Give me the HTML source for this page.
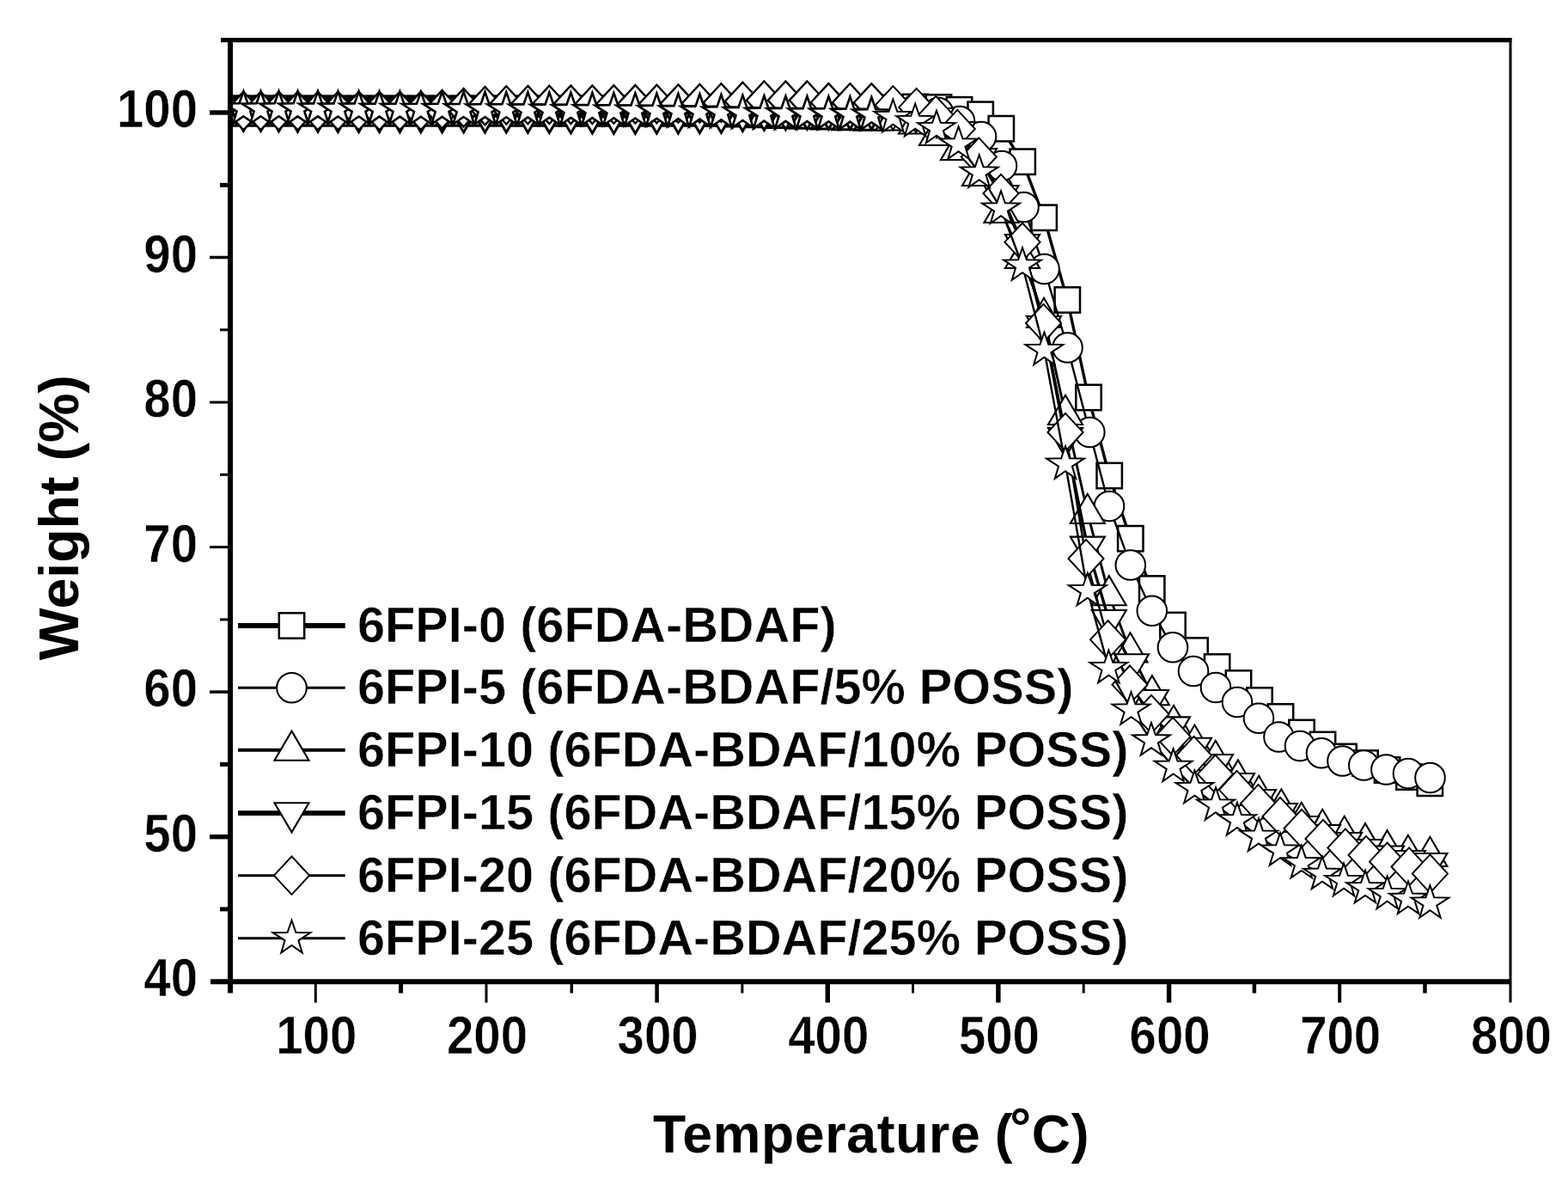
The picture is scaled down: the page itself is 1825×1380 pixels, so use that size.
<!DOCTYPE html>
<html lang="en"><head><meta charset="utf-8"><title>TGA curves</title>
<style>html,body{margin:0;padding:0;background:#fff;overflow:hidden}svg{display:block}text{font-family:"Liberation Sans",Arial,Helvetica,sans-serif;font-weight:bold;fill:#000}.m{fill:#fff;stroke:#000;stroke-linejoin:miter;stroke-miterlimit:4}.l{fill:none;stroke:#000;stroke-linejoin:round}.a{stroke:#000;fill:none;stroke-linecap:butt}</style></head><body>
<svg width="1825" height="1380" viewBox="0 0 1825 1380" role="img" aria-label="TGA weight versus temperature curves">
<rect width="1825" height="1380" fill="#fff"/>
<defs><clipPath id="c"><rect x="268" y="46" width="1490" height="1097"/></clipPath></defs>
<g clip-path="url(#c)">
<g id="s-sq">
<polyline class="l" stroke-width="3.4" points="263,127 283.4,127 303.5,127 324.5,127 346.5,127 370,127 393.4,127 417.6,127 441.6,127 465.4,127 489.9,127 514.6,127 539.6,127 564.5,127 589.3,127 614.4,127 639.4,127 664.4,127 689.4,127 714.4,127 739.4,127.1 764.4,127.2 789.4,127.4 814.4,127.6 839.4,127.8 864.4,127.9 889.4,128 914.4,128 939.4,127.9 964.4,127.8 989.4,127.6 1014.4,127 1039.4,125.5 1065.5,124.5 1092.5,125 1116.5,127.8 1141.2,133.3 1165.3,149.7 1190.2,188.2 1215.2,253.3 1242.3,349 1267,462.5 1291.2,553.5 1315.8,626.7 1340.7,685 1365,727.5 1391,757 1416.6,776 1441.5,795 1466,815 1490.5,834 1515,852.5 1539.5,866.5 1564,880.5 1589,888 1614.6,896 1640,904 1664.3,911.3"/>
<g class="m" stroke-width="3.4"><rect x="248.3" y="112.3" width="29.4" height="29.4"/><rect x="268.7" y="112.3" width="29.4" height="29.4"/><rect x="288.8" y="112.3" width="29.4" height="29.4"/><rect x="309.8" y="112.3" width="29.4" height="29.4"/><rect x="331.8" y="112.3" width="29.4" height="29.4"/><rect x="355.3" y="112.3" width="29.4" height="29.4"/><rect x="378.7" y="112.3" width="29.4" height="29.4"/><rect x="402.9" y="112.3" width="29.4" height="29.4"/><rect x="426.9" y="112.3" width="29.4" height="29.4"/><rect x="450.7" y="112.3" width="29.4" height="29.4"/><rect x="475.2" y="112.3" width="29.4" height="29.4"/><rect x="499.9" y="112.3" width="29.4" height="29.4"/><rect x="524.9" y="112.3" width="29.4" height="29.4"/><rect x="549.8" y="112.3" width="29.4" height="29.4"/><rect x="574.6" y="112.3" width="29.4" height="29.4"/><rect x="599.7" y="112.3" width="29.4" height="29.4"/><rect x="624.7" y="112.3" width="29.4" height="29.4"/><rect x="649.7" y="112.3" width="29.4" height="29.4"/><rect x="674.7" y="112.3" width="29.4" height="29.4"/><rect x="699.7" y="112.3" width="29.4" height="29.4"/><rect x="724.7" y="112.4" width="29.4" height="29.4"/><rect x="749.7" y="112.5" width="29.4" height="29.4"/><rect x="774.7" y="112.7" width="29.4" height="29.4"/><rect x="799.7" y="112.9" width="29.4" height="29.4"/><rect x="824.7" y="113.1" width="29.4" height="29.4"/><rect x="849.7" y="113.2" width="29.4" height="29.4"/><rect x="874.7" y="113.3" width="29.4" height="29.4"/><rect x="899.7" y="113.3" width="29.4" height="29.4"/><rect x="924.7" y="113.2" width="29.4" height="29.4"/><rect x="949.7" y="113.1" width="29.4" height="29.4"/><rect x="974.7" y="112.9" width="29.4" height="29.4"/><rect x="999.7" y="112.3" width="29.4" height="29.4"/></g>
<g class="m" stroke-width="2.5"><rect x="1024.7" y="110.8" width="29.4" height="29.4"/><rect x="1050.8" y="109.8" width="29.4" height="29.4"/><rect x="1077.8" y="110.3" width="29.4" height="29.4"/><rect x="1101.8" y="113.1" width="29.4" height="29.4"/><rect x="1126.5" y="118.6" width="29.4" height="29.4"/><rect x="1150.6" y="135" width="29.4" height="29.4"/><rect x="1175.5" y="173.5" width="29.4" height="29.4"/><rect x="1200.5" y="238.6" width="29.4" height="29.4"/><rect x="1227.6" y="334.3" width="29.4" height="29.4"/><rect x="1252.3" y="447.8" width="29.4" height="29.4"/><rect x="1276.5" y="538.8" width="29.4" height="29.4"/><rect x="1301.1" y="612" width="29.4" height="29.4"/><rect x="1326" y="670.3" width="29.4" height="29.4"/><rect x="1350.3" y="712.8" width="29.4" height="29.4"/><rect x="1376.3" y="742.3" width="29.4" height="29.4"/><rect x="1401.9" y="761.3" width="29.4" height="29.4"/><rect x="1426.8" y="780.3" width="29.4" height="29.4"/><rect x="1451.3" y="800.3" width="29.4" height="29.4"/><rect x="1475.8" y="819.3" width="29.4" height="29.4"/><rect x="1500.3" y="837.8" width="29.4" height="29.4"/><rect x="1524.8" y="851.8" width="29.4" height="29.4"/><rect x="1549.3" y="865.8" width="29.4" height="29.4"/><rect x="1574.3" y="873.3" width="29.4" height="29.4"/><rect x="1599.9" y="881.3" width="29.4" height="29.4"/><rect x="1625.3" y="889.3" width="29.4" height="29.4"/><rect x="1649.6" y="896.6" width="29.4" height="29.4"/></g>
</g>
<g id="s-ci">
<polyline class="l" stroke-width="2.4" points="263,128.5 283.4,128.5 303.5,128.5 324.5,128.5 346.5,128.5 370,128.5 393.4,128.5 417.6,128.5 441.6,128.5 465.4,128.5 489.9,128.5 514.6,128.5 539.6,128.5 564.5,128.5 589.3,128.5 614.4,128.5 639.4,128.5 664.4,128.5 689.4,128.5 714.4,128.5 739.4,128.6 764.4,128.7 789.4,128.9 814.4,129.1 839.4,129.3 864.4,129.4 889.4,129.5 914.4,129.5 939.4,129.5 964.4,129.5 989.4,129.5 1014.4,129.2 1039.4,128 1066,127 1092,131 1117,141 1142,159 1166,193 1191.5,241 1215.5,313 1242.5,404.5 1268.3,503 1291,589 1315.8,657.5 1340.8,710.8 1365,753.3 1389,781 1415,800 1440,817 1465,835.7 1488.5,857.5 1513,868 1538,876.3 1562.5,885.5 1587.3,890.5 1613.4,895.5 1639,900 1664.5,905"/>
<g class="m" stroke-width="3.4"><circle cx="263" cy="128.5" r="17.3"/><circle cx="283.4" cy="128.5" r="17.3"/><circle cx="303.5" cy="128.5" r="17.3"/><circle cx="324.5" cy="128.5" r="17.3"/><circle cx="346.5" cy="128.5" r="17.3"/><circle cx="370" cy="128.5" r="17.3"/><circle cx="393.4" cy="128.5" r="17.3"/><circle cx="417.6" cy="128.5" r="17.3"/><circle cx="441.6" cy="128.5" r="17.3"/><circle cx="465.4" cy="128.5" r="17.3"/><circle cx="489.9" cy="128.5" r="17.3"/><circle cx="514.6" cy="128.5" r="17.3"/><circle cx="539.6" cy="128.5" r="17.3"/><circle cx="564.5" cy="128.5" r="17.3"/><circle cx="589.3" cy="128.5" r="17.3"/><circle cx="614.4" cy="128.5" r="17.3"/><circle cx="639.4" cy="128.5" r="17.3"/><circle cx="664.4" cy="128.5" r="17.3"/><circle cx="689.4" cy="128.5" r="17.3"/><circle cx="714.4" cy="128.5" r="17.3"/><circle cx="739.4" cy="128.6" r="17.3"/><circle cx="764.4" cy="128.7" r="17.3"/><circle cx="789.4" cy="128.9" r="17.3"/><circle cx="814.4" cy="129.1" r="17.3"/><circle cx="839.4" cy="129.3" r="17.3"/><circle cx="864.4" cy="129.4" r="17.3"/><circle cx="889.4" cy="129.5" r="17.3"/><circle cx="914.4" cy="129.5" r="17.3"/><circle cx="939.4" cy="129.5" r="17.3"/><circle cx="964.4" cy="129.5" r="17.3"/><circle cx="989.4" cy="129.5" r="17.3"/><circle cx="1014.4" cy="129.2" r="17.3"/></g>
<g class="m" stroke-width="2.0"><circle cx="1039.4" cy="128" r="17.3"/><circle cx="1066" cy="127" r="17.3"/><circle cx="1092" cy="131" r="17.3"/><circle cx="1117" cy="141" r="17.3"/><circle cx="1142" cy="159" r="17.3"/><circle cx="1166" cy="193" r="17.3"/><circle cx="1191.5" cy="241" r="17.3"/><circle cx="1215.5" cy="313" r="17.3"/><circle cx="1242.5" cy="404.5" r="17.3"/><circle cx="1268.3" cy="503" r="17.3"/><circle cx="1291" cy="589" r="17.3"/><circle cx="1315.8" cy="657.5" r="17.3"/><circle cx="1340.8" cy="710.8" r="17.3"/><circle cx="1365" cy="753.3" r="17.3"/><circle cx="1389" cy="781" r="17.3"/><circle cx="1415" cy="800" r="17.3"/><circle cx="1440" cy="817" r="17.3"/><circle cx="1465" cy="835.7" r="17.3"/><circle cx="1488.5" cy="857.5" r="17.3"/><circle cx="1513" cy="868" r="17.3"/><circle cx="1538" cy="876.3" r="17.3"/><circle cx="1562.5" cy="885.5" r="17.3"/><circle cx="1587.3" cy="890.5" r="17.3"/><circle cx="1613.4" cy="895.5" r="17.3"/><circle cx="1639" cy="900" r="17.3"/><circle cx="1664.5" cy="905" r="17.3"/></g>
</g>
<g id="s-up">
<polyline class="l" stroke-width="2.9" points="263,134 283.4,134 303.5,134 324.5,134 346.5,134 370,134 393.4,134 417.6,134 441.6,134 465.4,134 489.9,134 514.6,134 539.6,134 564.5,134 589.3,134 614.4,134 639.4,134 664.4,134 689.4,134 714.4,134 739.4,134 764.4,134 789.4,134 814.4,134.1 839.4,134.5 864.4,135.1 889.4,135.7 914.4,136.4 939.4,137.2 964.4,138.1 989.4,138.8 1014.4,139.2 1039.4,139.5 1066,143.5 1090,157 1115,174 1140,204 1165.5,247 1190,300 1215,369 1240,482 1265.8,597 1290.8,692.3 1315.5,758.5 1340.9,808.3 1366,843 1390.4,865.7 1414.8,884 1440.9,906.6 1465.2,925 1491.3,940.5 1514.8,956 1539.2,964 1564.7,972 1589,980.3 1614.6,988.4 1638.9,994 1664.4,996"/>
<g class="m" stroke-width="3.0"><polygon points="263,111.8 283,146 243,146"/><polygon points="283.4,111.8 303.4,146 263.4,146"/><polygon points="303.5,111.8 323.5,146 283.5,146"/><polygon points="324.5,111.8 344.5,146 304.5,146"/><polygon points="346.5,111.8 366.5,146 326.5,146"/><polygon points="370,111.8 390,146 350,146"/><polygon points="393.4,111.8 413.4,146 373.4,146"/><polygon points="417.6,111.8 437.6,146 397.6,146"/><polygon points="441.6,111.8 461.6,146 421.6,146"/><polygon points="465.4,111.8 485.4,146 445.4,146"/><polygon points="489.9,111.8 509.9,146 469.9,146"/><polygon points="514.6,111.8 534.6,146 494.6,146"/><polygon points="539.6,111.8 559.6,146 519.6,146"/><polygon points="564.5,111.8 584.5,146 544.5,146"/><polygon points="589.3,111.8 609.3,146 569.3,146"/><polygon points="614.4,111.8 634.4,146 594.4,146"/><polygon points="639.4,111.8 659.4,146 619.4,146"/><polygon points="664.4,111.8 684.4,146 644.4,146"/><polygon points="689.4,111.8 709.4,146 669.4,146"/><polygon points="714.4,111.8 734.4,146 694.4,146"/><polygon points="739.4,111.8 759.4,146 719.4,146"/><polygon points="764.4,111.8 784.4,146 744.4,146"/><polygon points="789.4,111.8 809.4,146 769.4,146"/><polygon points="814.4,111.9 834.4,146.1 794.4,146.1"/><polygon points="839.4,112.3 859.4,146.5 819.4,146.5"/><polygon points="864.4,112.9 884.4,147.1 844.4,147.1"/><polygon points="889.4,113.5 909.4,147.7 869.4,147.7"/><polygon points="914.4,114.2 934.4,148.4 894.4,148.4"/><polygon points="939.4,115 959.4,149.2 919.4,149.2"/><polygon points="964.4,115.9 984.4,150.1 944.4,150.1"/><polygon points="989.4,116.6 1009.4,150.8 969.4,150.8"/><polygon points="1014.4,117 1034.4,151.2 994.4,151.2"/></g>
<g class="m" stroke-width="2.1"><polygon points="1039.4,117.3 1059.4,151.5 1019.4,151.5"/><polygon points="1066,121.3 1086,155.5 1046,155.5"/><polygon points="1090,134.8 1110,169 1070,169"/><polygon points="1115,151.8 1135,186 1095,186"/><polygon points="1140,181.8 1160,216 1120,216"/><polygon points="1165.5,224.8 1185.5,259 1145.5,259"/><polygon points="1190,277.8 1210,312 1170,312"/><polygon points="1215,346.8 1235,381 1195,381"/><polygon points="1240,459.8 1260,494 1220,494"/><polygon points="1265.8,574.8 1285.8,609 1245.8,609"/><polygon points="1290.8,670.1 1310.8,704.3 1270.8,704.3"/><polygon points="1315.5,736.3 1335.5,770.5 1295.5,770.5"/><polygon points="1340.9,786.1 1360.9,820.3 1320.9,820.3"/><polygon points="1366,820.8 1386,855 1346,855"/><polygon points="1390.4,843.5 1410.4,877.7 1370.4,877.7"/><polygon points="1414.8,861.8 1434.8,896 1394.8,896"/><polygon points="1440.9,884.4 1460.9,918.6 1420.9,918.6"/><polygon points="1465.2,902.8 1485.2,937 1445.2,937"/><polygon points="1491.3,918.3 1511.3,952.5 1471.3,952.5"/><polygon points="1514.8,933.8 1534.8,968 1494.8,968"/><polygon points="1539.2,941.8 1559.2,976 1519.2,976"/><polygon points="1564.7,949.8 1584.7,984 1544.7,984"/><polygon points="1589,958.1 1609,992.3 1569,992.3"/><polygon points="1614.6,966.2 1634.6,1000.4 1594.6,1000.4"/><polygon points="1638.9,971.8 1658.9,1006 1618.9,1006"/><polygon points="1664.4,973.8 1684.4,1008 1644.4,1008"/></g>
</g>
<g id="s-dn">
<polyline class="l" stroke-width="3.4" points="263,130 283.4,130 303.5,130.2 324.5,130.6 346.5,131 370,131.1 393.4,131.3 417.6,131.4 441.6,131.4 465.4,131.5 489.9,131.6 514.6,131.7 539.6,131.7 564.5,131.8 589.3,131.9 614.4,132.1 639.4,132.4 664.4,132.7 689.4,132.9 714.4,133 739.4,133 764.4,132.9 789.4,132.8 814.4,132.6 839.4,132.2 864.4,130.4 889.4,129.2 914.4,128.5 939.4,128.2 964.4,128.1 989.4,128 1014.4,128.3 1039.4,129 1066,132 1090,138 1115,154 1140,185 1165.5,228 1190,285 1215,380 1240,510 1265.8,636.6 1290.8,722 1317,773.3 1340,815 1365,846.4 1390,870.7 1415,890 1440,912 1465,931 1490,947 1515,962 1540,972 1565,981 1589,989 1614,996.5 1639,1002 1664.4,1005"/>
<g class="m" stroke-width="3.0"><polygon points="263,152.2 283,118 243,118"/><polygon points="283.4,152.2 303.4,118 263.4,118"/><polygon points="303.5,152.4 323.5,118.2 283.5,118.2"/><polygon points="324.5,152.8 344.5,118.6 304.5,118.6"/><polygon points="346.5,153.2 366.5,119 326.5,119"/><polygon points="370,153.3 390,119.1 350,119.1"/><polygon points="393.4,153.5 413.4,119.3 373.4,119.3"/><polygon points="417.6,153.6 437.6,119.4 397.6,119.4"/><polygon points="441.6,153.6 461.6,119.4 421.6,119.4"/><polygon points="465.4,153.7 485.4,119.5 445.4,119.5"/><polygon points="489.9,153.8 509.9,119.6 469.9,119.6"/><polygon points="514.6,153.9 534.6,119.7 494.6,119.7"/><polygon points="539.6,153.9 559.6,119.7 519.6,119.7"/><polygon points="564.5,154 584.5,119.8 544.5,119.8"/><polygon points="589.3,154.1 609.3,119.9 569.3,119.9"/><polygon points="614.4,154.3 634.4,120.1 594.4,120.1"/><polygon points="639.4,154.6 659.4,120.4 619.4,120.4"/><polygon points="664.4,154.9 684.4,120.7 644.4,120.7"/><polygon points="689.4,155.1 709.4,120.9 669.4,120.9"/><polygon points="714.4,155.2 734.4,121 694.4,121"/><polygon points="739.4,155.2 759.4,121 719.4,121"/><polygon points="764.4,155.1 784.4,120.9 744.4,120.9"/><polygon points="789.4,155 809.4,120.8 769.4,120.8"/><polygon points="814.4,154.8 834.4,120.6 794.4,120.6"/><polygon points="839.4,154.4 859.4,120.2 819.4,120.2"/><polygon points="864.4,152.6 884.4,118.4 844.4,118.4"/><polygon points="889.4,151.4 909.4,117.2 869.4,117.2"/><polygon points="914.4,150.7 934.4,116.5 894.4,116.5"/><polygon points="939.4,150.4 959.4,116.2 919.4,116.2"/><polygon points="964.4,150.3 984.4,116.1 944.4,116.1"/><polygon points="989.4,150.2 1009.4,116 969.4,116"/><polygon points="1014.4,150.5 1034.4,116.3 994.4,116.3"/></g>
<g class="m" stroke-width="2.1"><polygon points="1039.4,151.2 1059.4,117 1019.4,117"/><polygon points="1066,154.2 1086,120 1046,120"/><polygon points="1090,160.2 1110,126 1070,126"/><polygon points="1115,176.2 1135,142 1095,142"/><polygon points="1140,207.2 1160,173 1120,173"/><polygon points="1165.5,250.2 1185.5,216 1145.5,216"/><polygon points="1190,307.2 1210,273 1170,273"/><polygon points="1215,402.2 1235,368 1195,368"/><polygon points="1240,532.2 1260,498 1220,498"/><polygon points="1265.8,658.8 1285.8,624.6 1245.8,624.6"/><polygon points="1290.8,744.2 1310.8,710 1270.8,710"/><polygon points="1317,795.5 1337,761.3 1297,761.3"/><polygon points="1340,837.2 1360,803 1320,803"/><polygon points="1365,868.6 1385,834.4 1345,834.4"/><polygon points="1390,892.9 1410,858.7 1370,858.7"/><polygon points="1415,912.2 1435,878 1395,878"/><polygon points="1440,934.2 1460,900 1420,900"/><polygon points="1465,953.2 1485,919 1445,919"/><polygon points="1490,969.2 1510,935 1470,935"/><polygon points="1515,984.2 1535,950 1495,950"/><polygon points="1540,994.2 1560,960 1520,960"/><polygon points="1565,1003.2 1585,969 1545,969"/><polygon points="1589,1011.2 1609,977 1569,977"/><polygon points="1614,1018.7 1634,984.5 1594,984.5"/><polygon points="1639,1024.2 1659,990 1619,990"/><polygon points="1664.4,1027.2 1684.4,993 1644.4,993"/></g>
</g>
<g id="s-di">
<polyline class="l" stroke-width="2.4" points="263,129 283.4,129 303.5,129 324.5,129 346.5,129 370,129 393.4,129 417.6,129 441.6,129 465.4,129 489.9,128.8 514.6,127.2 539.6,125.3 564.5,123.2 589.3,122.4 614.4,122.1 639.4,121.9 664.4,121.8 689.4,121.7 714.4,121.5 739.4,121.3 764.4,121 789.4,120.6 814.4,120.2 839.4,119.5 864.4,118 889.4,116.7 914.4,116.7 939.4,116.7 964.4,119.3 989.4,119.4 1014.4,119.5 1039.4,122.3 1066.7,125 1089.3,134 1114.3,150 1139.3,182.5 1165,225 1190,281.7 1214.5,376 1240,503 1264,650 1289.6,744.3 1315,796.7 1340,831 1365,857 1389.6,879 1414.5,900.7 1439.5,919 1464.5,935 1490,950 1515,964 1540,976 1565.9,986.5 1590,995 1614.6,1002.7 1640,1008.5 1664.4,1016.6"/>
<g class="m" stroke-width="2.4"><polygon points="263,106.8 283.6,129 263,151.2 242.4,129"/><polygon points="283.4,106.8 304,129 283.4,151.2 262.8,129"/><polygon points="303.5,106.8 324.1,129 303.5,151.2 282.9,129"/><polygon points="324.5,106.8 345.1,129 324.5,151.2 303.9,129"/><polygon points="346.5,106.8 367.1,129 346.5,151.2 325.9,129"/><polygon points="370,106.8 390.6,129 370,151.2 349.4,129"/><polygon points="393.4,106.8 414,129 393.4,151.2 372.8,129"/><polygon points="417.6,106.8 438.2,129 417.6,151.2 397,129"/><polygon points="441.6,106.8 462.2,129 441.6,151.2 421,129"/><polygon points="465.4,106.8 486,129 465.4,151.2 444.8,129"/><polygon points="489.9,106.6 510.5,128.8 489.9,151 469.3,128.8"/><polygon points="514.6,105 535.2,127.2 514.6,149.4 494,127.2"/><polygon points="539.6,103.1 560.2,125.3 539.6,147.5 519,125.3"/><polygon points="564.5,101 585.1,123.2 564.5,145.4 543.9,123.2"/><polygon points="589.3,100.2 609.9,122.4 589.3,144.6 568.7,122.4"/><polygon points="614.4,99.9 635,122.1 614.4,144.3 593.8,122.1"/><polygon points="639.4,99.7 660,121.9 639.4,144.1 618.8,121.9"/><polygon points="664.4,99.6 685,121.8 664.4,144 643.8,121.8"/><polygon points="689.4,99.5 710,121.7 689.4,143.9 668.8,121.7"/><polygon points="714.4,99.3 735,121.5 714.4,143.7 693.8,121.5"/><polygon points="739.4,99.1 760,121.3 739.4,143.5 718.8,121.3"/><polygon points="764.4,98.8 785,121 764.4,143.2 743.8,121"/><polygon points="789.4,98.4 810,120.6 789.4,142.8 768.8,120.6"/><polygon points="814.4,98 835,120.2 814.4,142.4 793.8,120.2"/><polygon points="839.4,97.3 860,119.5 839.4,141.7 818.8,119.5"/><polygon points="864.4,95.8 885,118 864.4,140.2 843.8,118"/><polygon points="889.4,94.5 910,116.7 889.4,138.9 868.8,116.7"/><polygon points="914.4,94.5 935,116.7 914.4,138.9 893.8,116.7"/><polygon points="939.4,94.5 960,116.7 939.4,138.9 918.8,116.7"/><polygon points="964.4,97.1 985,119.3 964.4,141.5 943.8,119.3"/><polygon points="989.4,97.2 1010,119.4 989.4,141.6 968.8,119.4"/><polygon points="1014.4,97.3 1035,119.5 1014.4,141.7 993.8,119.5"/></g>
<g class="m" stroke-width="1.9"><polygon points="1039.4,100.1 1060,122.3 1039.4,144.5 1018.8,122.3"/><polygon points="1066.7,102.8 1087.3,125 1066.7,147.2 1046.1,125"/><polygon points="1089.3,111.8 1109.9,134 1089.3,156.2 1068.7,134"/><polygon points="1114.3,127.8 1134.9,150 1114.3,172.2 1093.7,150"/><polygon points="1139.3,160.3 1159.9,182.5 1139.3,204.7 1118.7,182.5"/><polygon points="1165,202.8 1185.6,225 1165,247.2 1144.4,225"/><polygon points="1190,259.5 1210.6,281.7 1190,303.9 1169.4,281.7"/><polygon points="1214.5,353.8 1235.1,376 1214.5,398.2 1193.9,376"/><polygon points="1240,480.8 1260.6,503 1240,525.2 1219.4,503"/><polygon points="1264,627.8 1284.6,650 1264,672.2 1243.4,650"/><polygon points="1289.6,722.1 1310.2,744.3 1289.6,766.5 1269,744.3"/><polygon points="1315,774.5 1335.6,796.7 1315,818.9 1294.4,796.7"/><polygon points="1340,808.8 1360.6,831 1340,853.2 1319.4,831"/><polygon points="1365,834.8 1385.6,857 1365,879.2 1344.4,857"/><polygon points="1389.6,856.8 1410.2,879 1389.6,901.2 1369,879"/><polygon points="1414.5,878.5 1435.1,900.7 1414.5,922.9 1393.9,900.7"/><polygon points="1439.5,896.8 1460.1,919 1439.5,941.2 1418.9,919"/><polygon points="1464.5,912.8 1485.1,935 1464.5,957.2 1443.9,935"/><polygon points="1490,927.8 1510.6,950 1490,972.2 1469.4,950"/><polygon points="1515,941.8 1535.6,964 1515,986.2 1494.4,964"/><polygon points="1540,953.8 1560.6,976 1540,998.2 1519.4,976"/><polygon points="1565.9,964.3 1586.5,986.5 1565.9,1008.7 1545.3,986.5"/><polygon points="1590,972.8 1610.6,995 1590,1017.2 1569.4,995"/><polygon points="1614.6,980.5 1635.2,1002.7 1614.6,1024.9 1594,1002.7"/><polygon points="1640,986.3 1660.6,1008.5 1640,1030.7 1619.4,1008.5"/><polygon points="1664.4,994.4 1685,1016.6 1664.4,1038.8 1643.8,1016.6"/></g>
</g>
<g id="s-st">
<polyline class="l" stroke-width="2.4" points="263,127 283.4,127 303.5,127 324.5,127 346.5,127.1 370,127.1 393.4,127.2 417.6,127.2 441.6,127.3 465.4,127.4 489.9,127.5 514.6,127.6 539.6,127.7 564.5,127.8 589.3,128 614.4,128.1 639.4,128.3 664.4,128.6 689.4,128.8 714.4,129 739.4,129.2 764.4,129.5 789.4,129.8 814.4,130.3 839.4,131 864.4,131.7 889.4,132.3 914.4,132.6 939.4,132.8 964.4,133 989.4,133.3 1014.4,134 1039.4,136.4 1065.2,141.5 1090,149.5 1115.6,168 1139.7,201 1165,243 1190,309 1215.4,407.5 1240,540 1265.8,687.5 1290.4,777.4 1316.5,826 1340,861.8 1365.6,892.2 1390.4,917.4 1415,937 1440,954.7 1465,973.2 1490,990 1514.8,1004.6 1539,1017.3 1564,1025.4 1589,1033.6 1614.6,1040.5 1639,1046.3 1664.4,1051"/>
<g class="m" stroke-width="2.6"><polygon points="263,106.2 267.9,120.3 284.8,120.6 270.9,129.6 275.2,143.8 263,135.3 250.8,143.8 255.1,129.6 241.2,120.6 258.1,120.3"/><polygon points="283.4,106.2 288.3,120.3 305.2,120.6 291.3,129.6 295.6,143.8 283.4,135.3 271.2,143.8 275.5,129.6 261.6,120.6 278.5,120.3"/><polygon points="303.5,106.2 308.4,120.3 325.3,120.6 311.4,129.6 315.7,143.8 303.5,135.3 291.3,143.8 295.6,129.6 281.7,120.6 298.6,120.3"/><polygon points="324.5,106.2 329.4,120.3 346.3,120.6 332.4,129.6 336.7,143.9 324.5,135.3 312.3,143.9 316.6,129.6 302.7,120.6 319.6,120.3"/><polygon points="346.5,106.3 351.4,120.3 368.3,120.6 354.4,129.6 358.7,143.9 346.5,135.4 334.3,143.9 338.6,129.6 324.7,120.6 341.6,120.3"/><polygon points="370,106.3 374.9,120.4 391.8,120.7 377.9,129.7 382.2,143.9 370,135.4 357.8,143.9 362.1,129.7 348.2,120.7 365.1,120.4"/><polygon points="393.4,106.4 398.3,120.4 415.2,120.7 401.3,129.7 405.6,144 393.4,135.5 381.2,144 385.5,129.7 371.6,120.7 388.5,120.4"/><polygon points="417.6,106.4 422.5,120.5 439.4,120.8 425.5,129.8 429.8,144.1 417.6,135.5 405.4,144.1 409.7,129.8 395.8,120.8 412.7,120.5"/><polygon points="441.6,106.5 446.5,120.6 463.4,120.9 449.5,129.9 453.8,144.1 441.6,135.6 429.4,144.1 433.7,129.9 419.8,120.9 436.7,120.6"/><polygon points="465.4,106.6 470.3,120.7 487.2,121 473.3,129.9 477.6,144.2 465.4,135.7 453.2,144.2 457.5,129.9 443.6,121 460.5,120.7"/><polygon points="489.9,106.7 494.8,120.8 511.7,121 497.8,130 502.1,144.3 489.9,135.8 477.7,144.3 482,130 468.1,121 485,120.8"/><polygon points="514.6,106.8 519.5,120.8 536.4,121.1 522.5,130.1 526.8,144.4 514.6,135.9 502.4,144.4 506.7,130.1 492.8,121.1 509.7,120.8"/><polygon points="539.6,106.9 544.5,121 561.4,121.2 547.5,130.2 551.8,144.5 539.6,136 527.4,144.5 531.7,130.2 517.8,121.2 534.7,121"/><polygon points="564.5,107 569.4,121.1 586.3,121.4 572.4,130.4 576.7,144.6 564.5,136.1 552.3,144.6 556.6,130.4 542.7,121.4 559.6,121.1"/><polygon points="589.3,107.2 594.2,121.3 611.1,121.5 597.2,130.5 601.5,144.8 589.3,136.3 577.1,144.8 581.4,130.5 567.5,121.5 584.4,121.3"/><polygon points="614.4,107.3 619.3,121.4 636.2,121.7 622.3,130.7 626.6,145 614.4,136.4 602.2,145 606.5,130.7 592.6,121.7 609.5,121.4"/><polygon points="639.4,107.5 644.3,121.6 661.2,121.9 647.3,130.9 651.6,145.2 639.4,136.6 627.2,145.2 631.5,130.9 617.6,121.9 634.5,121.6"/><polygon points="664.4,107.8 669.3,121.8 686.2,122.1 672.3,131.1 676.6,145.4 664.4,136.9 652.2,145.4 656.5,131.1 642.6,122.1 659.5,121.8"/><polygon points="689.4,108 694.3,122.1 711.2,122.3 697.3,131.3 701.6,145.6 689.4,137.1 677.2,145.6 681.5,131.3 667.6,122.3 684.5,122.1"/><polygon points="714.4,108.2 719.3,122.3 736.2,122.6 722.3,131.6 726.6,145.8 714.4,137.3 702.2,145.8 706.5,131.6 692.6,122.6 709.5,122.3"/><polygon points="739.4,108.4 744.3,122.5 761.2,122.8 747.3,131.8 751.6,146.1 739.4,137.5 727.2,146.1 731.5,131.8 717.6,122.8 734.5,122.5"/><polygon points="764.4,108.7 769.3,122.8 786.2,123.1 772.3,132.1 776.6,146.3 764.4,137.8 752.2,146.3 756.5,132.1 742.6,123.1 759.5,122.8"/><polygon points="789.4,109 794.3,123.1 811.2,123.4 797.3,132.4 801.6,146.7 789.4,138.1 777.2,146.7 781.5,132.4 767.6,123.4 784.5,123.1"/><polygon points="814.4,109.5 819.3,123.6 836.2,123.9 822.3,132.9 826.6,147.1 814.4,138.6 802.2,147.1 806.5,132.9 792.6,123.9 809.5,123.6"/><polygon points="839.4,110.2 844.3,124.3 861.2,124.6 847.3,133.5 851.6,147.8 839.4,139.3 827.2,147.8 831.5,133.5 817.6,124.6 834.5,124.3"/><polygon points="864.4,110.9 869.3,125 886.2,125.3 872.3,134.3 876.6,148.6 864.4,140 852.2,148.6 856.5,134.3 842.6,125.3 859.5,125"/><polygon points="889.4,111.5 894.3,125.6 911.2,125.9 897.3,134.9 901.6,149.2 889.4,140.6 877.2,149.2 881.5,134.9 867.6,125.9 884.5,125.6"/><polygon points="914.4,111.8 919.3,125.9 936.2,126.2 922.3,135.2 926.6,149.5 914.4,140.9 902.2,149.5 906.5,135.2 892.6,126.2 909.5,125.9"/><polygon points="939.4,112 944.3,126.1 961.2,126.4 947.3,135.4 951.6,149.6 939.4,141.1 927.2,149.6 931.5,135.4 917.6,126.4 934.5,126.1"/><polygon points="964.4,112.2 969.3,126.3 986.2,126.6 972.3,135.6 976.6,149.8 964.4,141.3 952.2,149.8 956.5,135.6 942.6,126.6 959.5,126.3"/><polygon points="989.4,112.5 994.3,126.6 1011.2,126.9 997.3,135.9 1001.6,150.2 989.4,141.6 977.2,150.2 981.5,135.9 967.6,126.9 984.5,126.6"/><polygon points="1014.4,113.2 1019.3,127.3 1036.2,127.6 1022.3,136.5 1026.6,150.8 1014.4,142.3 1002.2,150.8 1006.5,136.5 992.6,127.6 1009.5,127.3"/></g>
<g class="m" stroke-width="2.0"><polygon points="1039.4,115.6 1044.3,129.7 1061.2,130 1047.3,139 1051.6,153.2 1039.4,144.7 1027.2,153.2 1031.5,139 1017.6,130 1034.5,129.7"/><polygon points="1065.2,120.7 1070.1,134.8 1087,135.1 1073.1,144.1 1077.4,158.3 1065.2,149.8 1053,158.3 1057.3,144.1 1043.4,135.1 1060.3,134.8"/><polygon points="1090,128.7 1094.9,142.8 1111.8,143.1 1097.9,152.1 1102.2,166.3 1090,157.8 1077.8,166.3 1082.1,152.1 1068.2,143.1 1085.1,142.8"/><polygon points="1115.6,147.2 1120.5,161.3 1137.4,161.6 1123.5,170.6 1127.8,184.8 1115.6,176.3 1103.4,184.8 1107.7,170.6 1093.8,161.6 1110.7,161.3"/><polygon points="1139.7,180.2 1144.6,194.3 1161.5,194.6 1147.6,203.6 1151.9,217.8 1139.7,209.3 1127.5,217.8 1131.8,203.6 1117.9,194.6 1134.8,194.3"/><polygon points="1165,222.2 1169.9,236.3 1186.8,236.6 1172.9,245.6 1177.2,259.8 1165,251.3 1152.8,259.8 1157.1,245.6 1143.2,236.6 1160.1,236.3"/><polygon points="1190,288.2 1194.9,302.3 1211.8,302.6 1197.9,311.6 1202.2,325.8 1190,317.3 1177.8,325.8 1182.1,311.6 1168.2,302.6 1185.1,302.3"/><polygon points="1215.4,386.7 1220.3,400.8 1237.2,401.1 1223.3,410.1 1227.6,424.3 1215.4,415.8 1203.2,424.3 1207.5,410.1 1193.6,401.1 1210.5,400.8"/><polygon points="1240,519.2 1244.9,533.3 1261.8,533.6 1247.9,542.6 1252.2,556.8 1240,548.3 1227.8,556.8 1232.1,542.6 1218.2,533.6 1235.1,533.3"/><polygon points="1265.8,666.7 1270.7,680.8 1287.6,681.1 1273.7,690.1 1278,704.3 1265.8,695.8 1253.6,704.3 1257.9,690.1 1244,681.1 1260.9,680.8"/><polygon points="1290.4,756.6 1295.3,770.7 1312.2,771 1298.3,780 1302.6,794.2 1290.4,785.7 1278.2,794.2 1282.5,780 1268.6,771 1285.5,770.7"/><polygon points="1316.5,805.2 1321.4,819.3 1338.3,819.6 1324.4,828.6 1328.7,842.8 1316.5,834.3 1304.3,842.8 1308.6,828.6 1294.7,819.6 1311.6,819.3"/><polygon points="1340,841 1344.9,855.1 1361.8,855.4 1347.9,864.4 1352.2,878.6 1340,870.1 1327.8,878.6 1332.1,864.4 1318.2,855.4 1335.1,855.1"/><polygon points="1365.6,871.4 1370.5,885.5 1387.4,885.8 1373.5,894.8 1377.8,909 1365.6,900.5 1353.4,909 1357.7,894.8 1343.8,885.8 1360.7,885.5"/><polygon points="1390.4,896.6 1395.3,910.7 1412.2,911 1398.3,920 1402.6,934.2 1390.4,925.7 1378.2,934.2 1382.5,920 1368.6,911 1385.5,910.7"/><polygon points="1415,916.2 1419.9,930.3 1436.8,930.6 1422.9,939.6 1427.2,953.8 1415,945.3 1402.8,953.8 1407.1,939.6 1393.2,930.6 1410.1,930.3"/><polygon points="1440,933.9 1444.9,948 1461.8,948.3 1447.9,957.3 1452.2,971.5 1440,963 1427.8,971.5 1432.1,957.3 1418.2,948.3 1435.1,948"/><polygon points="1465,952.4 1469.9,966.5 1486.8,966.8 1472.9,975.8 1477.2,990 1465,981.5 1452.8,990 1457.1,975.8 1443.2,966.8 1460.1,966.5"/><polygon points="1490,969.2 1494.9,983.3 1511.8,983.6 1497.9,992.6 1502.2,1006.8 1490,998.3 1477.8,1006.8 1482.1,992.6 1468.2,983.6 1485.1,983.3"/><polygon points="1514.8,983.8 1519.7,997.9 1536.6,998.2 1522.7,1007.2 1527,1021.4 1514.8,1012.9 1502.6,1021.4 1506.9,1007.2 1493,998.2 1509.9,997.9"/><polygon points="1539,996.5 1543.9,1010.6 1560.8,1010.9 1546.9,1019.9 1551.2,1034.1 1539,1025.6 1526.8,1034.1 1531.1,1019.9 1517.2,1010.9 1534.1,1010.6"/><polygon points="1564,1004.6 1568.9,1018.7 1585.8,1019 1571.9,1028 1576.2,1042.2 1564,1033.7 1551.8,1042.2 1556.1,1028 1542.2,1019 1559.1,1018.7"/><polygon points="1589,1012.8 1593.9,1026.9 1610.8,1027.2 1596.9,1036.2 1601.2,1050.4 1589,1041.9 1576.8,1050.4 1581.1,1036.2 1567.2,1027.2 1584.1,1026.9"/><polygon points="1614.6,1019.7 1619.5,1033.8 1636.4,1034.1 1622.5,1043.1 1626.8,1057.3 1614.6,1048.8 1602.4,1057.3 1606.7,1043.1 1592.8,1034.1 1609.7,1033.8"/><polygon points="1639,1025.5 1643.9,1039.6 1660.8,1039.9 1646.9,1048.9 1651.2,1063.1 1639,1054.6 1626.8,1063.1 1631.1,1048.9 1617.2,1039.9 1634.1,1039.6"/><polygon points="1664.4,1030.2 1669.3,1044.3 1686.2,1044.6 1672.3,1053.6 1676.6,1067.8 1664.4,1059.3 1652.2,1067.8 1656.5,1053.6 1642.6,1044.6 1659.5,1044.3"/></g>
</g>
</g>
<g class="a">
<line x1="268" y1="44" x2="268" y2="1155.6" stroke-width="6"/>
<line x1="257" y1="46.6" x2="1759.4" y2="46.6" stroke-width="5.2"/>
<line x1="245" y1="1142.2" x2="1757" y2="1142.2" stroke-width="6"/>
<line x1="1758" y1="44" x2="1758" y2="1166.6" stroke-width="3"/>
<line x1="244" y1="973.7" x2="268" y2="973.7" stroke-width="5.4"/>
<line x1="244" y1="805.1" x2="268" y2="805.1" stroke-width="3.5"/>
<line x1="244" y1="636.6" x2="268" y2="636.6" stroke-width="3"/>
<line x1="244" y1="468.1" x2="268" y2="468.1" stroke-width="3"/>
<line x1="244" y1="299.5" x2="268" y2="299.5" stroke-width="3.5"/>
<line x1="244" y1="131" x2="268" y2="131" stroke-width="5.4"/>
<line x1="256" y1="1057.9" x2="268" y2="1057.9" stroke-width="5"/>
<line x1="256" y1="889.4" x2="268" y2="889.4" stroke-width="5"/>
<line x1="256" y1="720.9" x2="268" y2="720.9" stroke-width="3"/>
<line x1="256" y1="552.3" x2="268" y2="552.3" stroke-width="3"/>
<line x1="256" y1="383.8" x2="268" y2="383.8" stroke-width="3"/>
<line x1="256" y1="215.3" x2="268" y2="215.3" stroke-width="5"/>
<line x1="367.3" y1="1142" x2="367.3" y2="1166.6" stroke-width="3"/>
<line x1="566" y1="1142" x2="566" y2="1166.6" stroke-width="3"/>
<line x1="764.6" y1="1142" x2="764.6" y2="1166.6" stroke-width="4.5"/>
<line x1="963.3" y1="1142" x2="963.3" y2="1166.6" stroke-width="5.4"/>
<line x1="1161.9" y1="1142" x2="1161.9" y2="1166.6" stroke-width="5.4"/>
<line x1="1360.6" y1="1142" x2="1360.6" y2="1166.6" stroke-width="5.4"/>
<line x1="1559.2" y1="1142" x2="1559.2" y2="1166.6" stroke-width="4"/>
<line x1="466.6" y1="1142" x2="466.6" y2="1155.6" stroke-width="5"/>
<line x1="665.3" y1="1142" x2="665.3" y2="1155.6" stroke-width="3.5"/>
<line x1="863.9" y1="1142" x2="863.9" y2="1155.6" stroke-width="3"/>
<line x1="1062.6" y1="1142" x2="1062.6" y2="1155.6" stroke-width="2.8"/>
<line x1="1261.2" y1="1142" x2="1261.2" y2="1155.6" stroke-width="3"/>
<line x1="1459.9" y1="1142" x2="1459.9" y2="1155.6" stroke-width="4.5"/>
<line x1="1658.5" y1="1142" x2="1658.5" y2="1155.6" stroke-width="4.5"/>
</g>
<g font-size="63" stroke="#fff" stroke-width="0.6">
<text text-anchor="end" transform="translate(230,1159.2) scale(0.895,1)">40</text>
<text text-anchor="end" transform="translate(230,990.7) scale(0.895,1)">50</text>
<text text-anchor="end" transform="translate(230,822.1) scale(0.895,1)">60</text>
<text text-anchor="end" transform="translate(230,653.6) scale(0.895,1)">70</text>
<text text-anchor="end" transform="translate(230,485.1) scale(0.895,1)">80</text>
<text text-anchor="end" transform="translate(230,316.5) scale(0.895,1)">90</text>
<text text-anchor="end" transform="translate(230,148) scale(0.895,1)">100</text>
<text text-anchor="middle" transform="translate(368.3,1226) scale(0.895,1)">100</text>
<text text-anchor="middle" transform="translate(567,1226) scale(0.895,1)">200</text>
<text text-anchor="middle" transform="translate(765.6,1226) scale(0.895,1)">300</text>
<text text-anchor="middle" transform="translate(964.3,1226) scale(0.895,1)">400</text>
<text text-anchor="middle" transform="translate(1162.9,1226) scale(0.895,1)">500</text>
<text text-anchor="middle" transform="translate(1361.6,1226) scale(0.895,1)">600</text>
<text text-anchor="middle" transform="translate(1560.2,1226) scale(0.895,1)">700</text>
<text text-anchor="middle" transform="translate(1758.9,1226) scale(0.895,1)">800</text>
</g>
<text font-size="62.5" x="760" y="1341.3"><tspan letter-spacing="0.69">Temperature</tspan><tspan dx="-1.2"> (</tspan><tspan dy="-7.7" dx="-3.4">°</tspan><tspan dy="7.7" dx="0.5">C</tspan><tspan dx="1">)</tspan></text>
<text font-size="64.5" text-anchor="middle" transform="translate(90.5,602.3) rotate(-90)">Weight (%)</text>
<g id="legend">
<line class="a" x1="277" y1="728" x2="401.7" y2="728" stroke-width="5.8"/>
<g class="m" stroke-width="2.5"><rect x="324.8" y="713.3" width="29.4" height="29.4"/></g>
<text font-size="57.7" x="416" y="746.7" stroke="#fff" stroke-width="0.5">6FPI-0 (6FDA-BDAF)</text>
<line class="a" x1="277" y1="800.3" x2="401.7" y2="800.3" stroke-width="3"/>
<g class="m" stroke-width="2.0"><circle cx="339.5" cy="800.3" r="17.3"/></g>
<text font-size="57.7" x="416" y="819.2" stroke="#fff" stroke-width="0.5">6FPI-5 (6FDA-BDAF/5% POSS)</text>
<line class="a" x1="277" y1="872.8" x2="401.7" y2="872.8" stroke-width="4"/>
<g class="m" stroke-width="2.1"><polygon points="339.5,850.6 359.5,884.8 319.5,884.8"/></g>
<text font-size="57.7" x="416" y="891.7" stroke="#fff" stroke-width="0.5">6FPI-10 (6FDA-BDAF/10% POSS)</text>
<line class="a" x1="277" y1="946.2" x2="401.7" y2="946.2" stroke-width="5.8"/>
<g class="m" stroke-width="2.1"><polygon points="339.5,968.4 359.5,934.2 319.5,934.2"/></g>
<text font-size="57.7" x="416" y="965" stroke="#fff" stroke-width="0.5">6FPI-15 (6FDA-BDAF/15% POSS)</text>
<line class="a" x1="277" y1="1018.7" x2="401.7" y2="1018.7" stroke-width="3"/>
<g class="m" stroke-width="1.9"><polygon points="339.5,996.5 360.1,1018.7 339.5,1040.9 318.9,1018.7"/></g>
<text font-size="57.7" x="416" y="1038.3" stroke="#fff" stroke-width="0.5">6FPI-20 (6FDA-BDAF/20% POSS)</text>
<line class="a" x1="277" y1="1091.7" x2="401.7" y2="1091.7" stroke-width="3"/>
<g class="m" stroke-width="2.0"><polygon points="339.5,1070.9 344.4,1085 361.3,1085.3 347.4,1094.3 351.7,1108.5 339.5,1100 327.3,1108.5 331.6,1094.3 317.7,1085.3 334.6,1085"/></g>
<text font-size="57.7" x="416" y="1110.8" stroke="#fff" stroke-width="0.5">6FPI-25 (6FDA-BDAF/25% POSS)</text>
</g>
</svg></body></html>
